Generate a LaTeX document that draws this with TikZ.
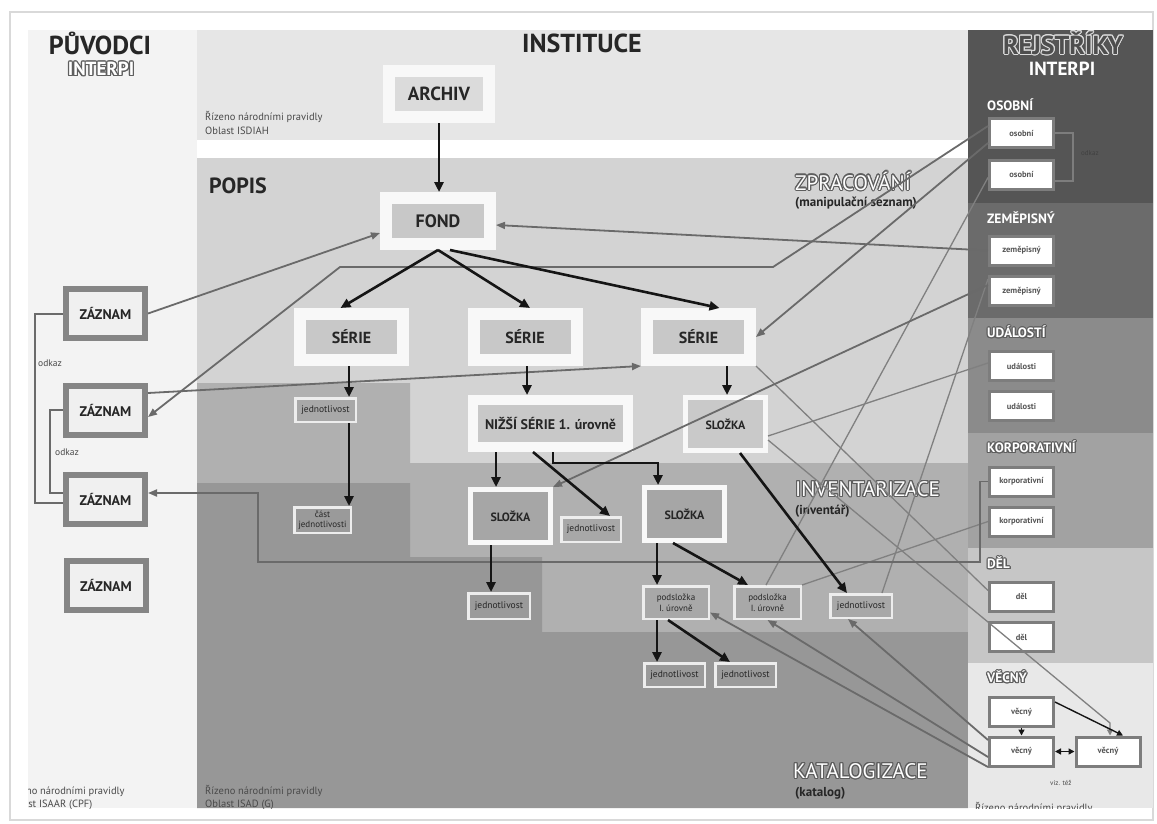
\documentclass[tikz,border=0pt]{standalone}
\usepackage{fontspec}
\setmainfont{PT Sans}
\usetikzlibrary{arrows.meta,calc}
\definecolor{cPuv}{HTML}{F3F3F3}
\definecolor{cInst}{HTML}{E6E6E6}
\definecolor{cZpr}{HTML}{D3D3D3}
\definecolor{cInv}{HTML}{B0B0B0}
\definecolor{cKat}{HTML}{979797}
\definecolor{cOs}{HTML}{555555}
\definecolor{cZe}{HTML}{6B6B6B}
\definecolor{cUd}{HTML}{8B8B8B}
\definecolor{cKo}{HTML}{A2A2A2}
\definecolor{cDe}{HTML}{C6C6C6}
\definecolor{cVe}{HTML}{E8E8E8}
\definecolor{tdark}{HTML}{262626}
\definecolor{bwhite}{HTML}{F8F8F8}
\definecolor{swhite}{HTML}{EDEDED}
\definecolor{zfill}{HTML}{F0F0F0}
\definecolor{zbord}{HTML}{858585}
\definecolor{rbord}{HTML}{7D7D7D}
\definecolor{rtext}{HTML}{555555}
\definecolor{arrblk}{HTML}{151515}
\definecolor{lgray}{HTML}{6A6A6A}
\definecolor{fgray}{HTML}{808080}
\definecolor{olgray}{HTML}{5E5E5E}
\definecolor{ollight}{HTML}{DADADA}
\definecolor{rejfill}{HTML}{4E4E4E}
\definecolor{stxt}{HTML}{4A4A4A}
\definecolor{cardln}{HTML}{D9D9D9}
\definecolor{fArch}{HTML}{DBDBDB}
\definecolor{fBig}{HTML}{C8C8C8}
\definecolor{fSloA}{HTML}{C9C9C9}
\definecolor{fSloB}{HTML}{A6A6A6}
\definecolor{fSmA}{HTML}{A8A8A8}
\definecolor{fSmB}{HTML}{9A9A9A}
\newlength\olw
\setlength\olw{1.1pt}
\newcommand\olcopy[2]{\rlap{\kern#1\olw\raise#2\olw\copy0}}
\newcommand\outlinetext[3]{\begingroup\setbox0=\hbox{#3}%
\color{#1}%
\olcopy{1}{0}\olcopy{-1}{0}\olcopy{0}{1}\olcopy{0}{-1}%
\olcopy{.7}{.7}\olcopy{-.7}{.7}\olcopy{.7}{-.7}\olcopy{-.7}{-.7}%
\olcopy{.92}{.38}\olcopy{-.92}{.38}\olcopy{.92}{-.38}\olcopy{-.92}{-.38}%
\olcopy{.38}{.92}\olcopy{-.38}{.92}\olcopy{.38}{-.92}\olcopy{-.38}{-.92}%
\color{#2}\box0\endgroup}
\newcommand\setfsz[2]{\fontsize{#1}{#2}\selectfont}
\tikzset{
  bigbox/.style={fill=#1, draw=bwhite, line width=12pt, inner sep=0pt, text=tdark, font=\bfseries\setfsz{16}{18}},
  midbox/.style={fill=#1, draw=bwhite, line width=5pt, inner sep=0pt, text=tdark, font=\bfseries\setfsz{12}{14}, minimum width=80pt, minimum height=53pt},
  smbox/.style={fill=#1, draw=swhite, line width=2.5pt, inner sep=0pt, text=tdark, font=\setfsz{9.5}{10.5}, align=center},
  zbox/.style={fill=zfill, draw=zbord, line width=6pt, inner sep=0pt, text=tdark, font=\bfseries\setfsz{14}{16}, minimum width=79pt, minimum height=49pt},
  rbox/.style={fill=white, draw=rbord, line width=3pt, inner sep=0pt, text=rtext, font=\bfseries\setfsz{8.5}{10}, minimum width=64pt, minimum height=29pt},
  title/.style={inner sep=0pt, text=tdark, font=\bfseries\setfsz{26}{28}},
  stext/.style={inner sep=0pt, text=stxt, font=\setfsz{10.5}{12}, anchor=west},
  sect/.style={inner sep=0pt, anchor=west, font=\setfsz{21}{23}},
  subsect/.style={inner sep=0pt, anchor=west, text=tdark, font=\bfseries\setfsz{13}{15}},
  band/.style={inner sep=0pt, anchor=west, font=\bfseries\setfsz{13.5}{15}},
  odk/.style={inner sep=0pt, anchor=west, text=stxt, font=\setfsz{9.5}{11}},
  blk/.style={draw=arrblk, line width=2.6pt, -{Triangle[length=10pt,width=9pt]}},
  gry/.style={draw=lgray, line width=1.8pt, -{Triangle[length=9pt,width=7pt]}},
  fnt/.style={draw=fgray, line width=1.3pt},
  brk/.style={draw=lgray, line width=2pt},
  dk/.style={draw=arrblk, line width=1.4pt, -{Triangle[length=6pt,width=6pt]}}
}
\begin{document}
\begin{tikzpicture}[x=1pt,y=-1pt]
\useasboundingbox (0,0) rectangle (1157,823);
\fill[white] (0,0) rectangle (1157,823);
\draw[cardln, line width=1.5pt] (10,12) rectangle (1153,820);
% panels
\fill[cPuv] (28,30) rectangle (197,808);
\fill[cInst] (197,30) rectangle (968,140);
\fill[white] (197,140) rectangle (968,158);
\fill[cZpr] (197,158) -- (968,158) -- (968,463) -- (410,463) -- (410,383) -- (197,383) -- cycle;
\fill[cInv] (197,383) -- (410,383) -- (410,463) -- (968,463) -- (968,632) -- (542,632) -- (542,557) -- (410,557) -- (410,483) -- (197,483) -- cycle;
\fill[cKat] (197,483) -- (410,483) -- (410,557) -- (542,557) -- (542,632) -- (968,632) -- (968,808) -- (197,808) -- cycle;
\fill[cOs] (968,30) rectangle (1153,203);
\fill[cZe] (968,203) rectangle (1153,318);
\fill[cUd] (968,318) rectangle (1153,433);
\fill[cKo] (968,433) rectangle (1153,548);
\fill[cDe] (968,548) rectangle (1153,663);
\fill[cVe] (968,663) rectangle (1153,808);
% titles
\node[title] (tPuv) at (100,43) {PŮVODCI};
\node[inner sep=0pt, font=\bfseries\setfsz{19}{21}] (tPuvI) at (101,69) {\outlinetext{olgray}{white}{INTERPI}};
\node[title] (tInst) at (582,43) {INSTITUCE};
\node[inner sep=0pt, font=\bfseries\setfsz{26}{28}] (tRej) at (1063,43) {\outlinetext{ollight}{rejfill}{REJSTŘÍKY}};
\node[inner sep=0pt, text=white, font=\bfseries\setfsz{19}{21}] (tRejI) at (1062,69) {INTERPI};
\node[stext] (isd1) at (205,117) {Řízeno národními pravidly};
\node[stext] (isd2) at (205,131) {Oblast ISDIAH};
\node[inner sep=0pt, anchor=west, text=tdark, font=\bfseries\setfsz{22}{24}] (tPopis) at (209,186) {POPIS};
\node[sect] (tZpr) at (795,181) {\outlinetext{olgray}{white}{ZPRACOVÁNÍ}};
\node[subsect] (tZpr2) at (795,203) {(manipulační seznam)};
\node[sect] (tInv) at (795,489) {\outlinetext{olgray}{white}{INVENTARIZACE}};
\node[subsect] (tInv2) at (795,511) {(inventář)};
\node[sect] (tKat) at (793,771) {\outlinetext{olgray}{white}{KATALOGIZACE}};
\node[subsect] (tKat2) at (795,793) {(katalog)};
% register band labels
\node[band, text=white] (bOs) at (987,105) {OSOBNÍ};
\node[band, text=white] (bZe) at (987,218) {ZEMĚPISNÝ};
\node[band] (bUd) at (987,332) {\outlinetext{olgray}{white}{UDÁLOSTÍ}};
\node[band] (bKo) at (987,447) {\outlinetext{olgray}{white}{KORPORATIVNÍ}};
\node[band] (bDe) at (987,563) {\outlinetext{olgray}{white}{DĚL}};
\node[band] (bVe) at (987,677) {\outlinetext{olgray}{white}{VĚCNÝ}};
% bottom clipped texts
\begin{scope}
\clip (28,30) rectangle (197,808);
\node[stext] (pL1) at (7,791) {Řízeno národními pravidly};
\node[stext] (pL2) at (7,805) {Oblast ISAAR (CPF)};
\end{scope}
\begin{scope}
\clip (197,30) rectangle (968,808);
\node[stext] (pM1) at (205,791) {Řízeno národními pravidly};
\node[stext] (pM2) at (205,805) {Oblast ISAD (G)};
\end{scope}
\begin{scope}
\clip (968,30) rectangle (1153,808);
\node[stext] (pR1) at (975,808) {Řízeno národními pravidly};
\end{scope}
% description nodes
\node[bigbox=fArch, minimum width=100pt, minimum height=46pt, font=\bfseries\setfsz{19}{21}] (archiv) at (439,94) {ARCHIV};
\node[bigbox=fBig, minimum width=104pt, minimum height=46pt, font=\bfseries\setfsz{18}{20}] (fond) at (438,221) {FOND};
\node[bigbox=fBig, minimum width=103pt, minimum height=46pt] (s1) at (351.5,337) {SÉRIE};
\node[bigbox=fBig, minimum width=103pt, minimum height=46pt] (s2) at (525,337) {SÉRIE};
\node[bigbox=fBig, minimum width=103pt, minimum height=46pt] (s3) at (698.5,337) {SÉRIE};
\node[bigbox=fBig, line width=10pt, minimum width=155pt, minimum height=47pt, font=\bfseries\setfsz{14}{16}] (nizsi) at (550.5,423.5) {NIŽŠÍ SÉRIE 1. úrovně};
\node[midbox=fSloA] (sloTR) at (725.5,424) {SLOŽKA};
\node[midbox=fSloB] (sloL) at (510.5,516) {SLOŽKA};
\node[midbox=fSloB] (sloR) at (684.5,514) {SLOŽKA};
\node[smbox=fSmA, minimum width=60.5pt, minimum height=23.5pt] (j1) at (325.5,410) {jednotlivost};
\node[smbox=fSmB, minimum width=56.5pt, minimum height=25.5pt, font=\setfsz{9}{10}] (cast) at (322.5,520) {část\\jednotlivosti};
\node[smbox=fSmA, minimum width=59.5pt, minimum height=24.5pt] (jmid) at (591,529.5) {jednotlivost};
\node[smbox=fSmB, minimum width=61.5pt, minimum height=25.5pt] (jL) at (499,606) {jednotlivost};
\node[smbox=fSmA, minimum width=65.5pt, minimum height=32.5pt, font=\setfsz{9}{10.5}] (pod1) at (676,602.5) {podsložka\\I. úrovně};
\node[smbox=fSmA, minimum width=66.5pt, minimum height=32.5pt, font=\setfsz{9}{10.5}] (pod2) at (767.5,602.5) {podsložka\\I. úrovně};
\node[smbox=fSmA, minimum width=61.5pt, minimum height=23.5pt] (jR) at (861,606) {jednotlivost};
\node[smbox=fSmB, minimum width=60.5pt, minimum height=23.5pt] (jb1) at (674.5,675) {jednotlivost};
\node[smbox=fSmB, minimum width=60.5pt, minimum height=23.5pt] (jb2) at (745.5,675) {jednotlivost};
% ZAZNAM nodes
\node[zbox] (z1) at (105.5,313.5) {ZÁZNAM};
\node[zbox] (z2) at (105.5,410) {ZÁZNAM};
\node[zbox] (z3) at (105.5,499.5) {ZÁZNAM};
\node[zbox] (z4) at (106,585.5) {ZÁZNAM};
% register nodes
\node[rbox] (os1) at (1021.5,133) {osobní};
\node[rbox] (os2) at (1021.5,174.5) {osobní};
\node[rbox] (zem1) at (1021.5,250.5) {zeměpisný};
\node[rbox] (zem2) at (1021.5,291) {zeměpisný};
\node[rbox] (ud1) at (1021.5,366) {události};
\node[rbox] (ud2) at (1021.5,406) {události};
\node[rbox] (kor1) at (1021.5,481.5) {korporativní};
\node[rbox] (kor2) at (1021.5,521.5) {korporativní};
\node[rbox] (del1) at (1021.5,596.5) {děl};
\node[rbox] (del2) at (1021.5,637) {děl};
\node[rbox] (vec1) at (1021.5,712) {věcný};
\node[rbox] (vec2) at (1021.5,751.5) {věcný};
\node[rbox] (vec3) at (1108,751.5) {věcný};
\node[odk, font=\setfsz{7}{8}] (viz) at (1050,783) {viz. též};
% odkaz brackets
\draw[brk] (z1.west) -- ++(-28,0) |- ($(z3.west)+(0,3.5)$);
\draw[brk] (z2.west) -- ++(-13,0) |- ($(z3.west)+(0,-6.5)$);
\node[odk] (od1) at (38,363) {odkaz};
\node[odk] (od2) at (55,452) {odkaz};
\draw[draw=rbord, line width=2pt] (os1.east) -- ++(18,0) |- ($(os2.east)+(0,6)$);
\node[odk, text=black!75, font=\setfsz{7}{8}] (od3) at (1081,153) {odkaz};
% faint lines
\draw[fnt] ($(ud1.west)+(0,-3)$) -- ($(sloTR.east)+(0,12)$);
\draw[fnt] (kor2.west) -- (pod2.north east);
\draw[fnt] (s3.south east) -- ($(del1.west)+(0,-6)$);
\coordinate (g11) at (1110,723);
\draw[fnt, -{Triangle[length=6pt,width=6pt]}] ($(sloTR.east)+(0,16)$) -- (g11) -- (g11 |- vec3.north);
\draw[fnt] ($(os2.west)+(0,3)$) -- ($(pod2.north)+(-1.5,0)$);
\draw[fnt] ($(zem2.north west)+(0,4)$) -- ($(jR.north east)+(-11,0)$);
% gray connectors
\draw[gry] (z1.east) -- ($(fond.west)+(0,12)$);
\coordinate (g2a) at (773,267);
\coordinate (g2b) at (340,267);
\draw[gry] ($(os1.west)+(0,-7)$) -- (g2a) -- (g2b) -- ($(z2.east)+(0,7)$);
\draw[gry] ($(z2.east)+(0,-17)$) -- (s3.south west);
\draw[gry] ($(os1.west)+(0,10)$) -- (s3.east);
\draw[gry] (zem1.west) -- ($(fond.east)+(0,4)$);
\draw[gry] ($(zem2.west)+(0,-6)$) -- (sloL.north east);
\coordinate (g8a) at (980,562);
\coordinate (g8b) at (258,562);
\coordinate (g8c) at (258,493);
\draw[gry] (kor1.west) -| (g8a) -- (g8b) -- (g8c) -- ($(z3.east)+(0,-6.5)$);
\draw[gry] ($(vec2.west)+(0,-11.5)$) -- ($(jR.south)+(-13,0)$);
\draw[gry] ($(vec2.west)+(0,5.5)$) -- (pod2.south);
\draw[gry] ($(vec2.west)+(0,15.5)$) -- ($(pod1.east)+(0,10)$);
% black hierarchy arrows
\draw[blk] (archiv.south) -- (archiv.south |- fond.north);
\draw[blk] (fond.south) -- ($(s1.north)+(-11,0)$);
\draw[blk] (fond.south) -- ($(s2.north)+(5,0)$);
\draw[blk] ($(fond.south)+(12,0)$) -- ($(s3.north)+(21,0)$);
\coordinate (a5) at ($(s1.south)+(-2.5,0)$);
\draw[blk] (a5) -- (a5 |- j1.north);
\coordinate (a6) at ($(j1.south)+(23.5,0)$);
\draw[blk] (a6) -- (a6 |- cast.north);
\coordinate (a7) at ($(s2.south)+(2,0)$);
\draw[blk] (a7) -- (a7 |- nizsi.north);
\coordinate (a8) at ($(s3.south)+(28.5,0)$);
\draw[blk] (a8) -- (a8 |- sloTR.north);
\coordinate (a9) at ($(nizsi.south)+(-54.5,0)$);
\draw[blk] (a9) -- (a9 |- sloL.north);
\draw[blk] ($(nizsi.south)+(-17.5,0)$) -- ($(jmid.north)+(19,0)$);
\coordinate (a11) at ($(nizsi.south)+(2.5,0)$);
\coordinate (a11b) at ($(sloR.north)+(-26.5,0)$);
\draw[blk] (a11) -- ++(0,11) -| (a11b);
\coordinate (a12) at ($(sloL.south)+(-19.5,0)$);
\draw[blk] (a12) -- (a12 |- jL.north);
\coordinate (a13) at ($(sloR.south)+(-27.5,0)$);
\draw[blk] (a13) -- (a13 |- pod1.north);
\draw[blk] ($(sloR.south)+(-11.5,0)$) -- ($(pod2.north)+(-19.5,0)$);
\draw[blk] ($(sloTR.south)+(14.5,0)$) -- ($(jR.north)+(-14,0)$);
\coordinate (a16) at ($(pod1.south)+(-19,0)$);
\draw[blk] (a16) -- (a16 |- jb1.north);
\draw[blk] ($(pod1.south)+(-8,0)$) -- ($(jb2.north)+(-15.5,0)$);
% vecny arrows
\draw[dk] (vec1.south) -- (vec2.north);
\draw[dk, {Triangle[length=6pt,width=6pt]}-{Triangle[length=6pt,width=6pt]}] (vec2.east) -- (vec3.west);
\draw[dk] ($(vec1.east)+(0,-10)$) -- ($(vec3.north)+(15,0)$);
\end{tikzpicture}
\end{document}
